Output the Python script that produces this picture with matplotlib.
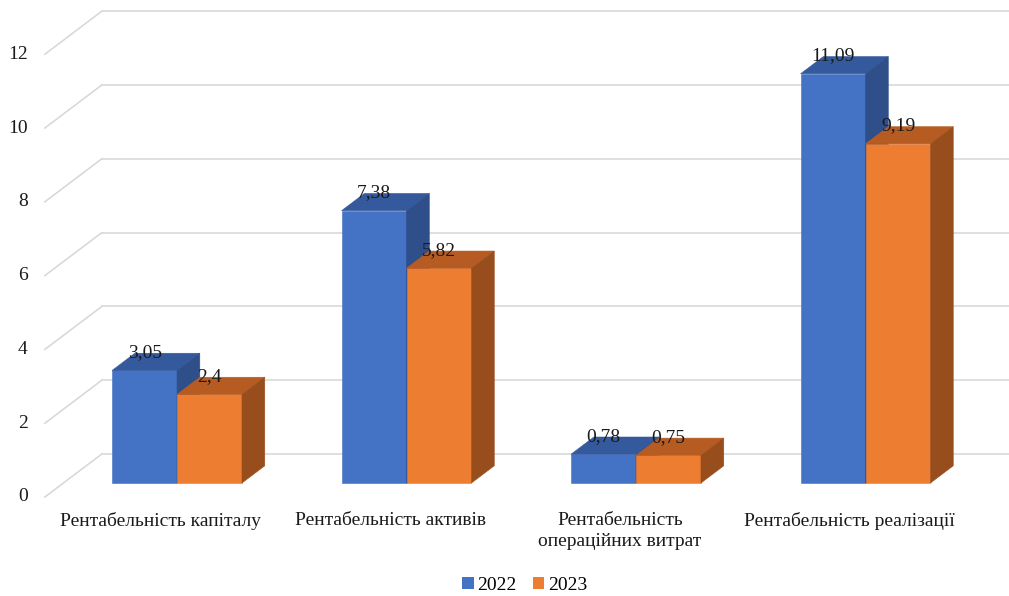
import numpy as np
import matplotlib
matplotlib.use('Agg')
import matplotlib.pyplot as plt
from matplotlib.patches import Polygon, Patch

categories = ['Рентабельність капіталу', 'Рентабельність активів',
              'Рентабельність\nопераційних витрат', 'Рентабельність реалізації']
years = ['2022', '2023']
values_2022 = [3.05, 7.38, 0.78, 11.09]
values_2023 = [2.4, 5.82, 0.75, 9.19]
yticks = [0, 2, 4, 6, 8, 10, 12]

front_colors = ['#4472C4', '#ED7D31']
top_colors = ['#34599C', '#B65C22']
side_colors = ['#2E4F8A', '#984D1D']

plt.rcParams['font.family'] = ['Liberation Serif', 'DejaVu Serif']

fig = plt.figure(figsize=(10.09, 5.96), dpi=100)
ax = fig.add_axes([0, 0, 1, 1])
ax.set_xlim(-0.6906, 3.706)
ax.set_ylim(-2.683, 13.469)
ax.axis('off')

# oblique depth of the floor (x in category units, y in value units)
DX, DY = 0.248, 1.165
floor_left = -0.495
f0, fd = 0.326, 0.40     # bar front position and bar depth, as fractions of floor depth
bw = 0.283

# gridlines: diagonal on the left side wall, horizontal on the back wall
for t in yticks:
    ax.plot([floor_left, floor_left + DX], [t, t + DY], color='#D9D9D9', lw=1.2, zorder=1)
    ax.plot([floor_left + DX, 3.8], [t + DY, t + DY], color='#D9D9D9', lw=1.2, zorder=1)
    ax.text(floor_left - 0.075, t, str(t), ha='right', va='center', fontsize=14, color='#1a1a1a')


def draw_bar(x0, v, k):
    ox, oy = f0 * DX, f0 * DY
    bx, by = fd * DX, fd * DY
    xl, xr = x0 + ox, x0 + bw + ox
    yb, yt = oy, v + oy
    front = [(xl, yb), (xr, yb), (xr, yt), (xl, yt)]
    top = [(xl, yt), (xr, yt), (xr + bx, yt + by), (xl + bx, yt + by)]
    side = [(xr, yb), (xr + bx, yb + by), (xr + bx, yt + by), (xr, yt)]
    for pts, c in ((front, front_colors[k]), (top, top_colors[k]), (side, side_colors[k])):
        ax.add_patch(Polygon(pts, closed=True, facecolor=c, edgecolor=c, lw=0.4, zorder=2))
    lab = ('%g' % v).replace('.', ',')
    ax.text((xl + xr) / 2, yt + by + 0.02, lab, ha='center', va='center',
            fontsize=14, color='#1a1a1a', zorder=5)


for i in range(len(categories)):
    draw_bar(i - bw, values_2022[i], 0)
    draw_bar(i, values_2023[i], 1)
    ax.text(i + 0.01, -0.42, categories[i], ha='center', va='top', fontsize=14,
            color='#1a1a1a', linespacing=1.3)

handles = [Patch(facecolor=front_colors[k], label=years[k]) for k in range(2)]
fig.legend(handles=handles, loc='center', bbox_to_anchor=(0.52, 0.018), ncol=2,
           frameon=False, fontsize=14, handlelength=0.6, handleheight=0.6,
           handletextpad=0.2, columnspacing=0.8)

fig.savefig('out.png', dpi=100)
